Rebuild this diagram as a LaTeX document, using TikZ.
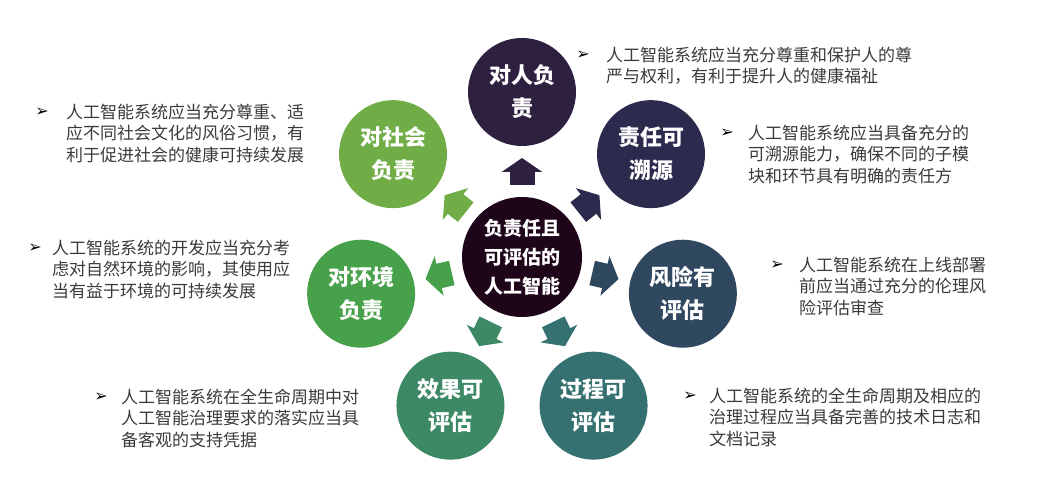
\documentclass[tikz,border=0pt]{standalone}
\usepackage{fontspec}
\setmainfont{Noto Sans CJK SC}
\newfontfamily\symfont{DejaVu Sans}
\usepackage{tikz}
\usetikzlibrary{arrows.meta, positioning, calc}

\definecolor{mauTam}{HTML}{1E0519}
\definecolor{mauRen}{HTML}{2E2140}
\definecolor{mauZeren}{HTML}{2C2A4D}
\definecolor{mauFeng}{HTML}{2F475F}
\definecolor{mauGuo}{HTML}{347170}
\definecolor{mauXiao}{HTML}{3D8966}
\definecolor{mauHuan}{HTML}{47A04A}
\definecolor{mauShe}{HTML}{70AD47}
\definecolor{mauChu}{HTML}{3A3A3A}

\tikzset{
  vong/.style={circle, minimum size=108pt, inner sep=0pt, outer sep=0pt, text=white,
    font=\bfseries\fontsize{22}{33}\selectfont, align=center},
  mota/.style={anchor=base west, inner sep=0pt, align=left, text=mauChu,
    font=\fontsize{17}{21.5}\selectfont},
  dau/.style={anchor=east, inner sep=0pt, text=black, font=\symfont\fontsize{16}{16}\selectfont},
  muiten/.style={line width=25pt, -{Triangle[width=40pt,length=14pt]},
    shorten <=12pt, shorten >=12pt}
}

\begin{document}
\begin{tikzpicture}[x=1pt, y=1pt]
        \useasboundingbox (0,0) rectangle (1064,489);

        % Vòng tròn trung tâm
        \node[vong, minimum size=120pt, fill=mauTam, font=\bfseries\fontsize{19}{29}\selectfont]
          (tam) at (522,232) {负责任且\\可评估的\\人工智能};

        % Bảy vòng tròn bên ngoài
        \node[vong, fill=mauRen]   (ren)   at ($(tam)+(90:165)$)     {对人负\\责};
        \node[vong, fill=mauZeren] (zeren) at ($(tam)+(38.57:165)$)  {责任可\\溯源};
        \node[vong, fill=mauFeng]  (feng)  at ($(tam)+(-12.86:165)$) {风险有\\评估};
        \node[vong, fill=mauGuo]   (guo)   at ($(tam)+(-64.29:165)$) {过程可\\评估};
        \node[vong, fill=mauXiao]  (xiao)  at ($(tam)+(-115.71:165)$) {效果可\\评估};
        \node[vong, fill=mauHuan]  (huan)  at ($(tam)+(-167.14:165)$) {对环境\\负责};
        \node[vong, fill=mauShe]   (she)   at ($(tam)+(141.43:165)$) {对社会\\负责};

        % Các mũi tên
        \draw[muiten, draw=mauRen, fill=mauRen]     (tam) -- (ren);
        \draw[muiten, draw=mauZeren, fill=mauZeren] (tam) -- (zeren);
        \draw[muiten, draw=mauFeng, fill=mauFeng]   (tam) -- (feng);
        \draw[muiten, draw=mauGuo, fill=mauGuo]     (tam) -- (guo);
        \draw[muiten, draw=mauXiao, fill=mauXiao]   (tam) -- (xiao);
        \draw[muiten, draw=mauHuan, fill=mauHuan]   (tam) -- (huan);
        \draw[muiten, draw=mauShe, fill=mauShe]     (tam) -- (she);

        % Các đoạn mô tả (base = dòng cuối)
        \node[mota] (moRen)   at (606,406)   {人工智能系统应当充分尊重和保护人的尊\\严与权利，有利于提升人的健康福祉};
        \node[mota] (moZeren) at (748,306.5) {人工智能系统应当具备充分的\\可溯源能力，确保不同的子模\\块和环节具有明确的责任方};
        \node[mota] (moFeng)  at (799,174.5) {人工智能系统在上线部署\\前应当通过充分的伦理风\\险评估审查};
        \node[mota] (moGuo)   at (709,43.5)  {人工智能系统的全生命周期及相应的\\治理过程应当具备完善的技术日志和\\文档记录};
        \node[mota] (moXiao)  at (121,42.5)  {人工智能系统在全生命周期中对\\人工智能治理要求的落实应当具\\备客观的支持凭据};
        \node[mota] (moHuan)  at (52,191.5)  {人工智能系统的开发应当充分考\\虑对自然环境的影响，其使用应\\当有益于环境的可持续发展};
        \node[mota] (moShe)   at (66,327.5)  {人工智能系统应当充分尊重、适\\应不同社会文化的风俗习惯，有\\利于促进社会的健康可持续发展};

        % Dấu đầu dòng
        \node[dau] (dRen)   at ($(moRen.base west)+(-16pt,28pt)$)     {➢};
        \node[dau] (dZeren) at ($(moZeren.base west)+(-14pt,49.5pt)$) {➢};
        \node[dau] (dFeng)  at ($(moFeng.base west)+(-15pt,49.5pt)$)  {➢};
        \node[dau] (dGuo)   at ($(moGuo.base west)+(-12pt,49.5pt)$)   {➢};
        \node[dau] (dXiao)  at ($(moXiao.base west)+(-13pt,49.5pt)$)  {➢};
        \node[dau] (dHuan)  at ($(moHuan.base west)+(-10pt,49.5pt)$)  {➢};
        \node[dau] (dShe)   at ($(moShe.base west)+(-17pt,49.5pt)$)   {➢};

\end{tikzpicture}
\end{document}
